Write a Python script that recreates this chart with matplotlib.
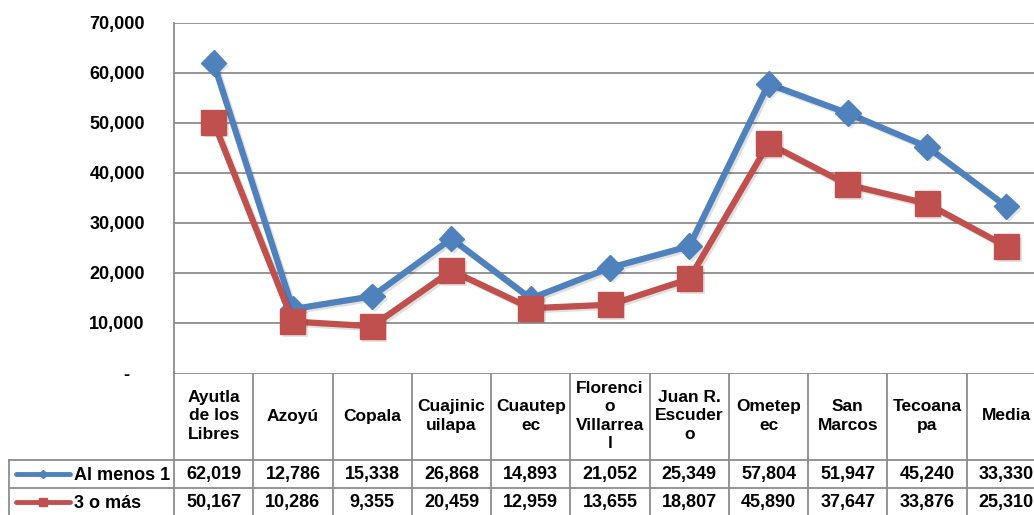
import numpy as np
import matplotlib.pyplot as plt
import matplotlib.patheffects as pe
from matplotlib.transforms import blended_transform_factory

plt.rcParams['font.family'] = ['Liberation Sans', 'DejaVu Sans']
plt.rcParams['font.weight'] = 'bold'

# data
categories = ["Ayutla\nde los\nLibres", "Azoyú", "Copala", "Cuajinic\nuilapa",
              "Cuautep\nec", "Florenci\no\nVillarrea\nl", "Juan R.\nEscuder\no",
              "Ometep\nec", "San\nMarcos", "Tecoana\npa", "Media"]
al_menos_1 = [62019, 12786, 15338, 26868, 14893, 21052, 25349, 57804, 51947, 45240, 33330]
tres_o_mas = [50167, 10286, 9355, 20459, 12959, 13655, 18807, 45890, 37647, 33876, 25310]
series_names = ["Al menos 1", "3 o más"]
yticks = [0, 10000, 20000, 30000, 40000, 50000, 60000, 70000]
ytick_labels = ["-   ", "10,000", "20,000", "30,000", "40,000", "50,000", "60,000", "70,000"]

blue = '#4F81BD'
red = '#C0504D'
grid = '#8C8C8C'

W, H = 1034, 515
fig = plt.figure(figsize=(W / 100, H / 100), dpi=100)

# plot area (right edge runs past the figure, as in the original)
ax = fig.add_axes([174 / W, (H - 373) / H, (1046 - 174) / W, (373 - 23) / H])
x = np.arange(len(categories))
line_fx = [pe.SimpleLineShadow(offset=(1.5, -1.5), alpha=0.12), pe.Normal()]
mark_fx = [pe.SimplePatchShadow(offset=(2, -2), alpha=0.12), pe.Normal()]
ax.plot(x, al_menos_1, color=blue, lw=4.5, zorder=3, path_effects=line_fx)
ax.plot(x, al_menos_1, ls='none', color=blue, marker='D', ms=13,
        zorder=3, path_effects=mark_fx)
ax.plot(x, tres_o_mas, color=red, lw=4.5, zorder=4, path_effects=line_fx)
ax.plot(x, tres_o_mas, ls='none', color=red, marker='s', ms=18,
        zorder=4, path_effects=mark_fx)
ax.set_xlim(-0.5, len(categories) - 0.5)
ax.set_ylim(0, 70000)
ax.set_yticks(yticks)
ax.set_yticklabels(ytick_labels, fontsize=13, fontweight='bold')
ax.set_xticks([])
ax.tick_params(axis='y', length=0, pad=21)
for y in yticks[1:]:
    ax.axhline(y, color=grid, lw=1.3, zorder=1)
for s in ['top', 'right', 'bottom']:
    ax.spines[s].set_visible(False)
ax.spines['left'].set_color(grid)
ax.spines['left'].set_linewidth(1.3)

# data table below the plot
tb = fig.add_axes([0, 0, 1, 1], zorder=-1)
tb.set_xlim(0, W)
tb.set_ylim(H, 0)
tb.axis('off')
tr = blended_transform_factory(ax.transData, tb.transData)
edges = np.arange(len(categories) + 1) - 0.5

tb.plot([174, 1046], [373, 373], color=grid, lw=1.3)
for e in edges:
    tb.plot([e, e], [373, 515], color=grid, lw=1.3, transform=tr)
tb.plot([9, 1046], [460, 460], color=grid, lw=1.3)
tb.plot([9, 1046], [488, 488], color=grid, lw=1.3)
tb.plot([9, 9], [460, 515], color=grid, lw=1.3)

for i, c in enumerate(categories):
    tb.text(i, 416, c, transform=tr, ha='center', va='center',
            fontsize=12.5, fontweight='bold', linespacing=1.3)
    tb.text(i, 475, f"{al_menos_1[i]:,}", transform=tr, ha='center', va='center',
            fontsize=13, fontweight='bold')
    tb.text(i, 503, f"{tres_o_mas[i]:,}", transform=tr, ha='center', va='center',
            fontsize=13, fontweight='bold')

# legend keys inside the table
tb.plot([16, 43, 70], [474, 474, 474], color=blue, lw=3.5, marker='D', ms=4,
        markevery=[1], solid_capstyle='round')
tb.plot([16, 43, 70], [502, 502, 502], color=red, lw=3.5, marker='s', ms=6,
        markevery=[1], solid_capstyle='round')
tb.text(74, 475, series_names[0], ha='left', va='center', fontsize=13, fontweight='bold')
tb.text(74, 503, series_names[1], ha='left', va='center', fontsize=13, fontweight='bold')

fig.savefig('out.png', dpi=100)
